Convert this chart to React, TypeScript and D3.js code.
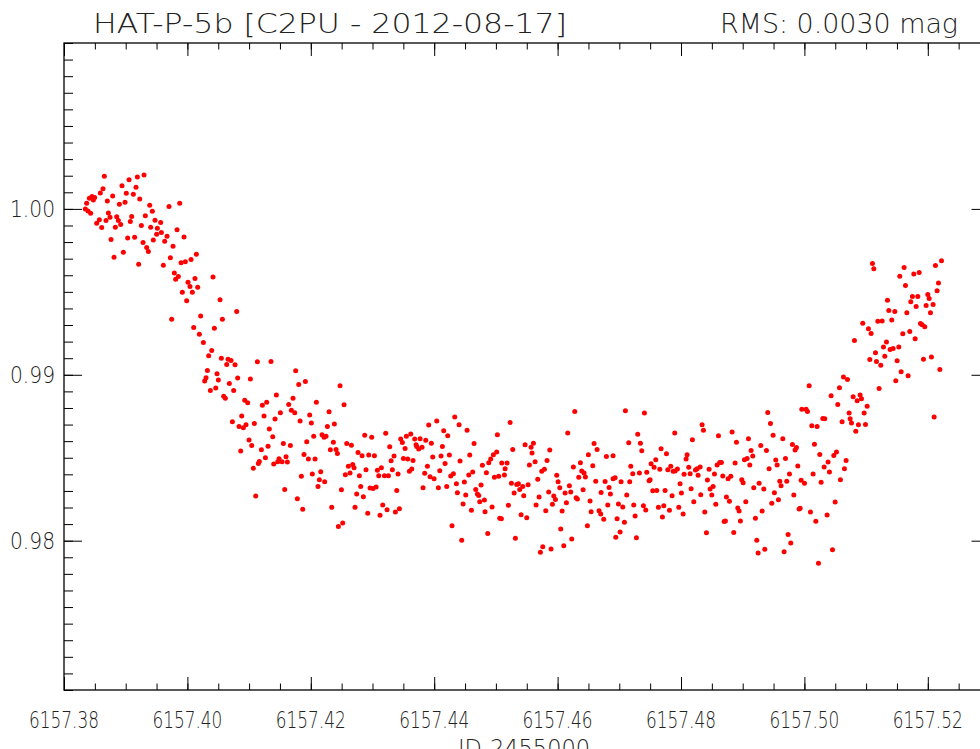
import React, { useEffect, useRef } from 'react';
import * as d3 from 'd3';

// JD-2455000, relative flux
const preIngress: [number, number][] = [
  [6157.38654,1.00197],[6157.39297,1.00205],[6157.39189,1.00193],[6157.39054,1.00175],[6157.38940,1.00139],[6157.39167,1.00131],[6157.38632,1.00121],[6157.38589,1.00096],[6157.39010,1.00094],[6157.39124,1.00088],
  [6157.38789,1.00078],[6157.38411,1.00064],[6157.38454,1.00074],[6157.38497,1.00068],[6157.38476,1.00054],[6157.39227,1.00060],[6157.38702,1.00048],[6157.38367,1.00034],[6157.38989,1.00040],[6157.38897,1.00028],
  [6157.39389,1.00022],[6157.39702,1.00014],[6157.39875,1.00034],[6157.38346,1.00000],[6157.38389,0.99988],[6157.38432,0.99974],[6157.38719,0.99976],[6157.39432,0.99986],[6157.38746,0.99950],[6157.38854,0.99952],
  [6157.39097,0.99954],[6157.39318,0.99958],[6157.38573,0.99934],[6157.38881,0.99930],[6157.39075,0.99924],[6157.39475,0.99932],[6157.38530,0.99914],[6157.38681,0.99930],[6157.38919,0.99906],[6157.39567,0.99918],
  [6157.39254,0.99900],[6157.38611,0.99888],[6157.38832,0.99890],[6157.39405,0.99890],[6157.39513,0.99884],[6157.39832,0.99874],[6157.39578,0.99857],[6157.39502,0.99847],[6157.39670,0.99835],[6157.39945,0.99831],
  [6157.38762,0.99815],[6157.39032,0.99825],[6157.39145,0.99829],[6157.39448,0.99813],[6157.39281,0.99797],[6157.39632,0.99805],[6157.39767,0.99775],[6157.39340,0.99767],[6157.39367,0.99743],[6157.38962,0.99739],
  [6157.38811,0.99709],[6157.39724,0.99705],[6157.39967,0.99681],[6157.39897,0.99675],[6157.40059,0.99695],[6157.40145,0.99727],[6157.39210,0.99667],[6157.39610,0.99661],[6157.39788,0.99613],[6157.39853,0.99592],
  [6157.39810,0.99576],[6157.40123,0.99580],[6157.40010,0.99558],[6157.40042,0.99532],[6157.40167,0.99528],[6157.39918,0.99498],[6157.40080,0.99498],[6157.39988,0.99446],[6157.39745,0.99335],[6157.40102,0.99285],
  [6157.40194,0.99245],[6157.40415,0.99590],
];

const ingress: [number, number][] = [
  [6157.40215,0.99355],[6157.40259,0.99195],[6157.40529,0.99452],[6157.40799,0.99382],[6157.40567,0.99335],[6157.40437,0.99281],[6157.40394,0.99147],[6157.40345,0.99115],[6157.40324,0.99026],[6157.40302,0.98982],
  [6157.40280,0.98962],[6157.40550,0.99100],[6157.40659,0.99094],[6157.40707,0.99086],[6157.40637,0.99062],[6157.40772,0.99060],[6157.40480,0.99006],[6157.40502,0.98968],[6157.40815,0.98980],[6157.41021,0.98974],
  [6157.40680,0.98948],[6157.40372,0.98906],[6157.40459,0.98920],[6157.40750,0.98906],[6157.40588,0.98870],[6157.40615,0.98858],[6157.41134,0.99078],[6157.41355,0.99080],[6157.41755,0.99024],[6157.41804,0.98942],
  [6157.41912,0.98960],[6157.42474,0.98934],[6157.42539,0.98819],[6157.41442,0.98878],[6157.41712,0.98858],[6157.42090,0.98835],[6157.40929,0.98847],[6157.40977,0.98831],[6157.41215,0.98817],[6157.41285,0.98835],
  [6157.41642,0.98821],[6157.41685,0.98787],[6157.41739,0.98771],[6157.41507,0.98771],[6157.42296,0.98777],[6157.41242,0.98751],[6157.40880,0.98751],[6157.41982,0.98757],[6157.42009,0.98709],[6157.41420,0.98733],
  [6157.41826,0.98721],[6157.42269,0.98689],[6157.42382,0.98703],[6157.40729,0.98717],[6157.40837,0.98689],[6157.40907,0.98681],[6157.40950,0.98699],[6157.41085,0.98707],[6157.41328,0.98673],[6157.41383,0.98627],
  [6157.42047,0.98629],[6157.42182,0.98639],[6157.42215,0.98623],[6157.42247,0.98629],[6157.40999,0.98607],[6157.41042,0.98574],[6157.41555,0.98586],[6157.41669,0.98574],[6157.41307,0.98570],[6157.41934,0.98596],
  [6157.42366,0.98594],[6157.42582,0.98586],[6157.40864,0.98540],[6157.41199,0.98548],[6157.42317,0.98548],[6157.42409,0.98550],[6157.42431,0.98526],[6157.41890,0.98520],[6157.41069,0.98436],[6157.41166,0.98478],
  [6157.41150,0.98466],[6157.41264,0.98500],[6157.41399,0.98462],[6157.41485,0.98494],[6157.41464,0.98476],[6157.41534,0.98476],[6157.41620,0.98474],[6157.41599,0.98506],[6157.41961,0.98492],[6157.42069,0.98492],
  [6157.42609,0.98448],[6157.41847,0.98388],[6157.42025,0.98402],[6157.42161,0.98416],[6157.42139,0.98368],[6157.42225,0.98356],[6157.42117,0.98327],[6157.42560,0.98398],[6157.41577,0.98309],[6157.42496,0.98307],
  [6157.41107,0.98269],[6157.41782,0.98253],[6157.41869,0.98189],[6157.42339,0.98201],[6157.42447,0.98086],[6157.42517,0.98106],
];

const bottomEarly: [number, number][] = [
  [6157.42658,0.98576],[6157.42679,0.98460],[6157.42701,0.98440],[6157.42636,0.98408],[6157.42787,0.98392],[6157.42744,0.98281],[6157.42717,0.98201],[6157.42874,0.98635],[6157.42987,0.98623],[6157.43214,0.98647],
  [6157.42766,0.98532],[6157.42831,0.98512],[6157.42939,0.98516],[6157.43031,0.98512],[6157.42895,0.98428],[6157.42809,0.98327],[6157.42852,0.98265],[6157.42923,0.98165],[6157.43079,0.98424],[6157.43144,0.98440],
  [6157.43101,0.98392],[6157.43193,0.98392],[6157.43258,0.98392],[6157.43322,0.98428],[6157.43414,0.98402],[6157.43349,0.98510],[6157.43301,0.98482],[6157.43279,0.98566],[6157.42960,0.98317],[6157.43009,0.98315],
  [6157.43058,0.98323],[6157.43166,0.98215],[6157.43236,0.98187],[6157.43122,0.98153],[6157.43371,0.98173],[6157.43436,0.98193],[6157.43393,0.98303],[6157.43457,0.98613],[6157.43484,0.98592],[6157.43549,0.98629],
  [6157.43620,0.98643],[6157.43528,0.98556],[6157.43684,0.98613],[6157.43771,0.98615],[6157.43706,0.98578],[6157.43749,0.98552],[6157.43803,0.98564],[6157.43863,0.98605],[6157.43954,0.98588],[6157.43717,0.98568],
  [6157.43501,0.98496],[6157.43571,0.98492],[6157.43657,0.98484],[6157.43636,0.98432],[6157.43598,0.98418],[6157.43911,0.98697],[6157.44041,0.98721],[6157.44333,0.98745],[6157.44403,0.98699],[6157.44154,0.98663],
  [6157.44219,0.98633],[6157.44533,0.98665],[6157.44646,0.98586],[6157.44133,0.98568],[6157.43976,0.98504],[6157.44111,0.98510],[6157.44246,0.98516],[6157.44176,0.98466],[6157.43890,0.98448],[6157.43846,0.98406],
  [6157.43933,0.98386],[6157.43998,0.98374],[6157.44090,0.98422],[6157.43819,0.98319],[6157.44068,0.98319],[6157.44203,0.98327],[6157.44268,0.98390],[6157.44311,0.98404],[6157.44360,0.98343],[6157.44419,0.98480],
  [6157.44489,0.98354],[6157.44576,0.98516],[6157.44560,0.98396],[6157.44624,0.98414],[6157.44376,0.98289],[6157.44511,0.98275],[6157.44673,0.98309],[6157.44760,0.98335],[6157.44700,0.98281],[6157.44722,0.98273],
  [6157.44738,0.98235],[6157.44814,0.98245],[6157.44468,0.98221],[6157.44603,0.98183],[6157.44781,0.98454],[6157.44846,0.98410],[6157.44884,0.98470],[6157.44916,0.98492],[6157.44959,0.98518],[6157.45013,0.98534],
  [6157.45024,0.98639],[6157.45046,0.98388],[6157.44976,0.98382],[6157.44938,0.98203],[6157.44824,0.98175],[6157.45062,0.98135],[6157.44289,0.98090],[6157.44446,0.98002],[6157.44868,0.98044],
];

const bottomMid: [number, number][] = [
  [6157.45230,0.98713],[6157.45095,0.98468],[6157.45181,0.98468],[6157.45149,0.98434],[6157.45138,0.98396],[6157.45089,0.98133],[6157.45273,0.98550],[6157.45473,0.98578],[6157.45608,0.98588],[6157.45570,0.98564],
  [6157.45586,0.98528],[6157.45635,0.98476],[6157.45543,0.98456],[6157.45873,0.98546],[6157.45829,0.98484],[6157.46164,0.98649],[6157.46278,0.98779],[6157.45251,0.98347],[6157.45338,0.98339],[6157.45365,0.98343],
  [6157.45386,0.98309],[6157.45435,0.98327],[6157.45522,0.98337],[6157.45295,0.98287],[6157.45451,0.98271],[6157.45203,0.98213],[6157.45408,0.98157],[6157.45500,0.98139],[6157.45316,0.98014],[6157.45678,0.98370],
  [6157.45743,0.98418],[6157.45786,0.98430],[6157.45700,0.98263],[6157.45651,0.98215],[6157.45856,0.98293],[6157.45808,0.98181],[6157.45986,0.98394],[6157.46008,0.98355],[6157.46035,0.98319],[6157.45938,0.98269],
  [6157.45965,0.98249],[6157.45916,0.98219],[6157.46121,0.98287],[6157.46191,0.98331],[6157.46213,0.98293],[6157.46143,0.98229],[6157.46073,0.98179],[6157.46051,0.98070],[6157.46100,0.97970],[6157.46229,0.98010],
  [6157.45759,0.97964],[6157.45721,0.97930],[6157.45894,0.97950],[6157.46256,0.98444],[6157.46343,0.98382],[6157.46370,0.98470],[6157.46391,0.98420],[6157.46429,0.98408],[6157.46451,0.98384],[6157.46413,0.98307],
  [6157.46300,0.98259],[6157.46321,0.98251],[6157.46499,0.98518],[6157.46591,0.98586],[6157.46640,0.98550],[6157.46570,0.98452],[6157.46526,0.98239],[6157.46543,0.98175],[6157.46618,0.98359],[6157.46705,0.98291],
  [6157.46770,0.98357],[6157.46834,0.98321],[6157.46856,0.98281],[6157.46899,0.98374],[6157.46932,0.98380],[6157.46791,0.98508],[6157.46899,0.98512],[6157.46813,0.98215],[6157.46672,0.98181],[6157.46699,0.98161],
  [6157.46748,0.98129],[6157.46483,0.98090],[6157.46986,0.98221],[6157.47056,0.98203],[6157.46964,0.98133],[6157.47083,0.98111],[6157.47013,0.98052],[6157.46943,0.98020],[6157.47029,0.98355],[6157.47121,0.98275],
  [6157.47153,0.98590],[6157.47099,0.98783],[6157.47407,0.98769],[6157.47299,0.98641],[6157.47342,0.98588],[6157.47364,0.98542],[6157.47186,0.98448],[6157.47218,0.98404],[6157.47326,0.98408],[6157.47169,0.98355],
  [6157.47445,0.98412],[6157.47483,0.98362],[6157.47234,0.98215],[6157.47256,0.98149],[6157.47391,0.98211],[6157.47429,0.98185],[6157.47277,0.98018],
];

const bottomLate: [number, number][] = [
  [6157.49406,0.98773],[6157.49450,0.98707],[6157.48342,0.98699],[6157.48364,0.98665],[6157.47899,0.98649],[6157.48607,0.98633],[6157.48828,0.98655],[6157.48185,0.98608],[6157.48899,0.98594],[6157.49093,0.98615],
  [6157.49493,0.98635],[6157.49650,0.98615],[6157.47677,0.98554],[6157.47764,0.98524],[6157.49293,0.98574],[6157.49385,0.98544],[6157.49136,0.98544],[6157.49806,0.98580],[6157.49871,0.98562],[6157.49849,0.98546],
  [6157.48099,0.98518],[6157.48083,0.98492],[6157.47591,0.98488],[6157.47515,0.98464],[6157.47564,0.98442],[6157.47656,0.98430],[6157.48628,0.98472],[6157.48655,0.98472],[6157.48585,0.98456],[6157.48877,0.98468],
  [6157.49028,0.98488],[6157.49071,0.98496],[6157.49115,0.98456],[6157.49163,0.98510],[6157.49536,0.98486],[6157.49558,0.98456],[6157.49693,0.98496],[6157.49428,0.98434],[6157.49893,0.98450],[6157.47786,0.98428],
  [6157.47834,0.98448],[6157.47872,0.98418],[6157.47904,0.98420],[6157.47942,0.98432],[6157.48050,0.98400],[6157.48126,0.98442],[6157.48148,0.98404],[6157.48234,0.98426],[6157.48261,0.98434],[6157.48310,0.98444],
  [6157.48277,0.98394],[6157.48455,0.98430],[6157.48542,0.98402],[6157.48428,0.98366],[6157.48677,0.98390],[6157.48763,0.98374],[6157.48807,0.98388],[6157.48985,0.98368],[6157.49007,0.98349],[6157.49758,0.98402],
  [6157.49601,0.98359],[6157.49714,0.98359],[6157.47499,0.98368],[6157.47985,0.98343],[6157.47542,0.98301],[6157.47607,0.98303],[6157.47742,0.98303],[6157.47856,0.98271],[6157.48007,0.98287],[6157.48164,0.98313],
  [6157.48320,0.98277],[6157.48472,0.98311],[6157.48499,0.98275],[6157.48520,0.98327],[6157.48736,0.98263],[6157.48785,0.98237],[6157.49050,0.98235],[6157.49179,0.98319],[6157.49266,0.98347],[6157.49342,0.98311],
  [6157.49514,0.98289],[6157.49622,0.98331],[6157.49828,0.98275],[6157.49579,0.98247],[6157.47634,0.98201],[6157.47721,0.98211],[6157.47699,0.98143],[6157.47813,0.98183],[6157.47964,0.98201],[6157.48034,0.98161],
  [6157.48207,0.98235],[6157.48385,0.98173],[6157.48564,0.98219],[6157.48920,0.98197],[6157.48942,0.98179],[6157.49315,0.98179],[6157.49471,0.98225],[6157.49914,0.98191],[6157.48699,0.98115],[6157.48720,0.98119],
  [6157.48963,0.98119],[6157.49206,0.98135],[6157.48412,0.98048],[6157.48855,0.98050],[6157.49736,0.98038],[6157.49228,0.98002],[6157.49779,0.97986],[6157.49250,0.97926],[6157.49358,0.97948],[6157.49671,0.97934],
];

const egress: [number, number][] = [
  [6157.51103,0.99671],[6157.51125,0.99639],[6157.51616,0.99647],[6157.51546,0.99594],[6157.51773,0.99608],[6157.51860,0.99617],[6157.52124,0.99659],[6157.52222,0.99687],[6157.51638,0.99538],[6157.52173,0.99554],
  [6157.52151,0.99506],[6157.51751,0.99472],[6157.51838,0.99472],[6157.51724,0.99440],[6157.52000,0.99484],[6157.52022,0.99460],[6157.51346,0.99450],[6157.51811,0.99412],[6157.51973,0.99418],[6157.52086,0.99424],
  [6157.52043,0.99374],[6157.51368,0.99388],[6157.51465,0.99382],[6157.51660,0.99374],[6157.51190,0.99323],[6157.51260,0.99325],[6157.51416,0.99331],[6157.50946,0.99311],[6157.51038,0.99277],[6157.51081,0.99249],
  [6157.51881,0.99309],[6157.51908,0.99301],[6157.51951,0.99289],[6157.51708,0.99261],[6157.51595,0.99247],[6157.51795,0.99217],[6157.50811,0.99207],[6157.51330,0.99197],[6157.51281,0.99167],[6157.51389,0.99153],
  [6157.51438,0.99159],[6157.51530,0.99167],[6157.51152,0.99133],[6157.51303,0.99112],[6157.51060,0.99092],[6157.51168,0.99080],[6157.51238,0.99058],[6157.51503,0.99084],[6157.51930,0.99094],[6157.52059,0.99108],
  [6157.52195,0.99032],[6157.51568,0.99018],[6157.51681,0.98994],[6157.51481,0.98964],[6157.51211,0.98918],[6157.50633,0.98986],[6157.50698,0.98972],[6157.50077,0.98934],[6157.50568,0.98922],[6157.50433,0.98874],
  [6157.50790,0.98868],[6157.50903,0.98878],[6157.50925,0.98855],[6157.50855,0.98843],[6157.51017,0.98811],[6157.50541,0.98821],[6157.49958,0.98793],[6157.50028,0.98793],[6157.50050,0.98779],[6157.50725,0.98769],
  [6157.50968,0.98769],[6157.50741,0.98735],[6157.50611,0.98717],[6157.50763,0.98709],[6157.50876,0.98699],[6157.50990,0.98701],[6157.50833,0.98659],[6157.50298,0.98737],[6157.50330,0.98735],[6157.50120,0.98693],
  [6157.50206,0.98689],[6157.52103,0.98745],[6157.50163,0.98582],[6157.50249,0.98520],[6157.50476,0.98514],[6157.50520,0.98534],[6157.50384,0.98474],[6157.50676,0.98484],[6157.50320,0.98444],[6157.50649,0.98434],
  [6157.50406,0.98414],[6157.50141,0.98402],[6157.49947,0.98364],[6157.50001,0.98347],[6157.50271,0.98353],[6157.50584,0.98368],[6157.50498,0.98233],[6157.49931,0.98195],[6157.50098,0.98173],[6157.50368,0.98155],
  [6157.50185,0.98117],[6157.50455,0.97946],[6157.50228,0.97864],
];

const xMajorTicks = [6157.38, 6157.40, 6157.42, 6157.44, 6157.46, 6157.48, 6157.50, 6157.52];
const xTickLabels = ['6157.38', '6157.40', '6157.42', '6157.44', '6157.46', '6157.48', '6157.50', '6157.52'];
const yMajorTicks = [0.98, 0.99, 1.0];
const yTickLabels = ['0.98', '0.99', '1.00'];

const title = 'HAT-P-5b [C2PU - 2012-08-17]';
const rmsText = 'RMS: 0.0030 mag';
const xTitle = 'JD-2455000';

const FONT = "'DejaVu Sans', 'Liberation Sans', sans-serif";

const LightCurve = () => {
    const svgRef = useRef<SVGSVGElement>(null);

    useEffect(() => {
        const svg = d3.select(svgRef.current);
        svg.selectAll('*').remove();
        const width = 980;
        const height = 749;

        const xScale = d3.scaleLinear().domain([6157.38, 6157.53]).range([64, 989.5]);
        const yScale = d3.scaleLinear().domain([0.971, 1.01]).range([690, 43]);

        const xMinor = d3.range(0, 31).map((i) => 6157.38 + i * 0.005);
        const yMinor = d3.range(0, 40).map((i) => 0.971 + i * 0.001);

        svg.append('rect').attr('width', width).attr('height', height).attr('fill', '#fff');

        const points = [...preIngress, ...ingress, ...bottomEarly, ...bottomMid, ...bottomLate, ...egress];
        svg.append('g')
            .selectAll('circle')
            .data(points)
            .enter()
            .append('circle')
            .attr('cx', (d) => xScale(d[0]))
            .attr('cy', (d) => yScale(d[1]))
            .attr('r', 2.5)
            .attr('fill', '#ff0000');

        const tickAxis = (axis: any, transform: string) => {
            const g = svg.append('g').attr('transform', transform).attr('color', '#000').call(axis);
            g.select('.domain').remove();
            g.selectAll('line').attr('stroke-width', 1);
        };

        // bottom / top
        tickAxis(d3.axisBottom(xScale).tickValues(xMinor).tickSize(-6.5).tickFormat(() => ''), 'translate(0,690)');
        tickAxis(d3.axisBottom(xScale).tickValues(xMajorTicks).tickSize(-13).tickFormat(() => ''), 'translate(0,690)');
        tickAxis(d3.axisTop(xScale).tickValues(xMinor).tickSize(-6.5).tickFormat(() => ''), 'translate(0,43)');
        tickAxis(d3.axisTop(xScale).tickValues(xMajorTicks).tickSize(-13).tickFormat(() => ''), 'translate(0,43)');
        // left / right
        tickAxis(d3.axisLeft(yScale).tickValues(yMinor).tickSize(-9).tickFormat(() => ''), 'translate(64,0)');
        tickAxis(d3.axisLeft(yScale).tickValues(yMajorTicks).tickSize(-18).tickFormat(() => ''), 'translate(64,0)');
        tickAxis(d3.axisRight(yScale).tickValues(yMinor).tickSize(-9).tickFormat(() => ''), 'translate(989.5,0)');
        tickAxis(d3.axisRight(yScale).tickValues(yMajorTicks).tickSize(-18).tickFormat(() => ''), 'translate(989.5,0)');

        svg.append('rect')
            .attr('x', xScale(6157.38))
            .attr('y', yScale(1.01))
            .attr('width', xScale(6157.53) - xScale(6157.38))
            .attr('height', yScale(0.971) - yScale(1.01))
            .attr('fill', 'none')
            .attr('stroke', '#000')
            .attr('stroke-width', 1.3);

        const label = (sel: any, size: number, len: number) =>
            sel.attr('font-family', FONT)
                .attr('font-size', size)
                .attr('font-weight', 200)
                .attr('fill', '#222')
                .attr('textLength', len)
                .attr('lengthAdjust', 'spacingAndGlyphs');

        // tick labels
        label(
            svg.append('g')
                .selectAll('text')
                .data(xMajorTicks)
                .enter()
                .append('text')
                .attr('x', (d) => xScale(d))
                .attr('y', 728)
                .attr('text-anchor', 'middle')
                .text((d, i) => xTickLabels[i]),
            23,
            70
        );

        label(
            svg.append('g')
                .selectAll('text')
                .data(yMajorTicks)
                .enter()
                .append('text')
                .attr('x', 55)
                .attr('y', (d) => yScale(d) + 8.5)
                .attr('text-anchor', 'end')
                .text((d, i) => yTickLabels[i]),
            23,
            45
        );

        // title + rms
        label(svg.append('text').attr('x', 93).attr('y', 33).text(title), 27, 474);
        label(svg.append('text').attr('x', 720).attr('y', 33).text(rmsText), 27, 238);

        // x-axis label (cut off at the bottom edge, as in the original)
        label(
            svg.append('text').attr('x', 524).attr('y', 756).attr('text-anchor', 'middle').text(xTitle),
            23,
            132
        );
    }, []);

    return (
        <svg
            ref={svgRef}
            width={980}
            height={749}
            style={{ position: 'absolute', left: 0, top: 0, display: 'block' }}
        />
    );
};

export default function App() {
    return <LightCurve />;
}
